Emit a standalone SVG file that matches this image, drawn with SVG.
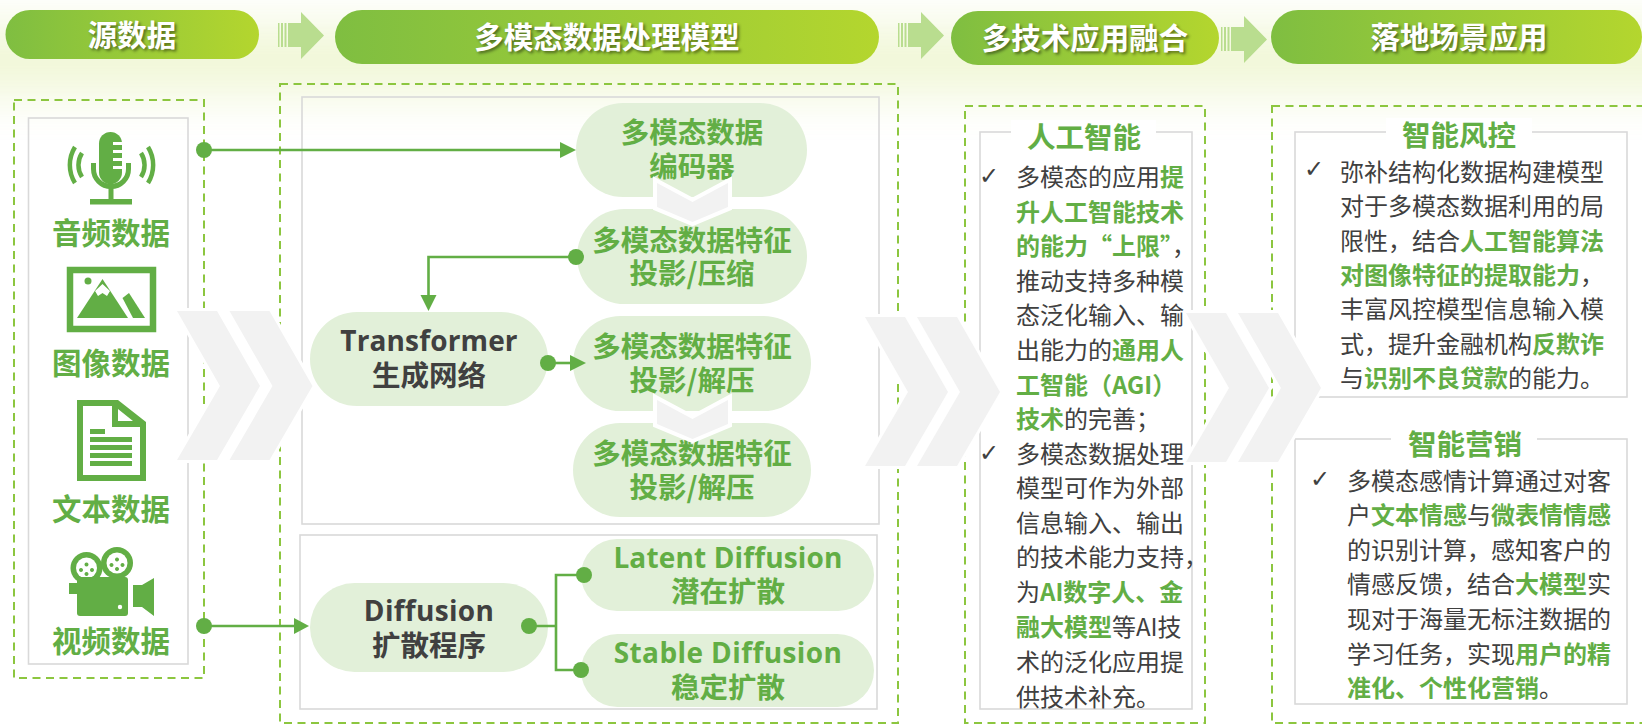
<svg xmlns="http://www.w3.org/2000/svg" xmlns:xlink="http://www.w3.org/1999/xlink" width="1642" height="724" viewBox="0 0 1642 724">
<style>
text{font-family:"Noto Sans CJK SC","Noto Sans",sans-serif}
.hd{font-size:29.500px;font-weight:700;fill:#fff;text-anchor:middle;text-shadow:2px 2px 3px rgba(0,0,0,.45)}
.src{font-size:29.500px;font-weight:700;fill:#62ae45;text-anchor:middle}
.g{font-size:28.500px;font-weight:700;fill:#62ae45;text-anchor:middle}
.d{font-size:28.500px;font-weight:700;fill:#404040;text-anchor:middle}
.lat{font-family:"Open Sans","Noto Sans",sans-serif;font-size:28px;letter-spacing:.15px}
.b{font-size:24px;fill:#404040}
.b tspan.k{font-weight:700;fill:#62ae45}
.chk{font-family:"DejaVu Sans",sans-serif;font-size:24px;fill:#404040;text-anchor:middle}
.dash{fill:none;stroke:#8cc63f;stroke-width:2;stroke-dasharray:8 5.5}
.grey{fill:none;stroke:#d9d9d9;stroke-width:1.6}
.pill{fill:#e2f0d9}
.line{fill:none;stroke:#62ae45;stroke-width:2.6}
.dot{fill:#62ae45}
.ic{fill:#62ae45}
.big{fill:#f2f2f2;stroke:#fff;stroke-width:6;paint-order:stroke}
.small{fill:#f2f2f2;stroke:#fff;stroke-width:8;paint-order:stroke}
.patch{fill:#fff}
</style>
<defs>
<linearGradient id="hg"><stop offset="0" stop-color="#7fbe41"/><stop offset="1" stop-color="#b4d62e"/></linearGradient>
<filter id="bl" filterUnits="userSpaceOnUse" x="-100" y="-100" width="1842" height="400"><feGaussianBlur stdDeviation="26"/></filter>
<g id="step">
<path d="M12 11H23V0L46 23.500 23 47V35H12Z" fill="#b9dd8f"/>
<path d="M0 11H1.500V35H0ZM3 11H5V35H3ZM6.500 11H8.500V35H6.500ZM10 11H12V35H10Z" fill="#b9dd8f"/>
</g>
<path id="chevB" class="big" d="M0 0H40L83 75 40 149H0L43 75Z"/>
<path id="chevS" class="small" d="M0 0 35.500 19 71 0V24L35.500 39 0 24Z"/>
</defs>

<g id="glow" filter="url(#bl)" opacity=".22">
<rect x="-100" y="30" width="1842" height="60" fill="#b4d62e"/>
</g>

<g id="frames">
<rect class="dash" x="14" y="100" width="190" height="578"/>
<rect class="grey" x="28.500" y="118" width="159.500" height="546"/>
<rect class="dash" x="280" y="84" width="618" height="639"/>
<rect class="grey" x="302" y="97" width="577" height="427"/>
<rect class="grey" x="300" y="535" width="577" height="174"/>
<rect class="dash" x="965" y="106" width="240" height="617"/>
<rect class="grey" x="980" y="132" width="212" height="577"/>
<rect class="dash" x="1272" y="106" width="372" height="617"/>
<rect class="grey" x="1295" y="132" width="332" height="265"/>
<rect class="grey" x="1295" y="439" width="332" height="265"/>
</g>

<g id="header-source"><rect x="5.500" y="10" width="253.500" height="49" rx="24.500" fill="url(#hg)"/><text class="hd" x="132" y="45.500">源数据</text></g>
<g id="header-model"><rect x="335" y="10" width="544" height="54" rx="27" fill="url(#hg)"/><text class="hd" x="607" y="47.500">多模态数据处理模型</text></g>
<g id="header-tech"><rect x="951" y="11" width="268" height="54" rx="27" fill="url(#hg)"/><text class="hd" x="1085" y="48.500">多技术应用融合</text></g>
<g id="header-scene"><rect x="1271" y="10" width="371" height="54" rx="27" fill="url(#hg)"/><text class="hd" x="1459" y="47.500">落地场景应用</text></g>
<g id="steps">
<use xlink:href="#step" href="#step" x="278" y="12"/>
<use xlink:href="#step" href="#step" x="898" y="12"/>
<use xlink:href="#step" href="#step" x="1221" y="16"/>
</g>

<g id="src-audio">
<g class="ic">
<rect x="99" y="132" width="23" height="52" rx="11.500"/>
<path d="M113 142h9v3h-9zM113 150h9v3h-9zM113 158h9v3h-9zM113 166h9v3h-9z" fill="#fff"/>
<path d="M93.500 163v6a17 17 0 0 0 35 0v-6" fill="none" stroke="#62ae45" stroke-width="5"/>
<rect x="108.500" y="186" width="5" height="14"/>
<rect x="90" y="199" width="42" height="5.500"/>
<path d="M75 147a34 34 0 0 0 0 36M82 153a22 22 0 0 0 0 24M148 147a34 34 0 0 1 0 36M141 153a22 22 0 0 1 0 24" fill="none" stroke="#62ae45" stroke-width="4.500"/>
</g>
<text class="src" x="111" y="244">音频数据</text>
</g>
<g id="src-image">
<rect x="70" y="270" width="83" height="59" fill="none" stroke="#62ae45" stroke-width="6.500"/>
<circle class="ic" cx="88" cy="281" r="3.500"/>
<path class="ic" d="M77 318 102.500 279 128 318Z"/>
<path d="M95 291 98 296 102.500 293 107 296 110 291 102.500 284Z" fill="#fff"/>
<path class="ic" d="M122.500 298 129 293 145 318H133Z"/>
<text class="src" x="111" y="374">图像数据</text>
</g>
<g id="src-text">
<path class="ic" fill-rule="evenodd" d="M77 400H118L146 422V481H77ZM83 406V475H140V427H112V406ZM118 409V421H133Z"/>
<path class="ic" d="M90 429h15v5H90zM90 437h42v5H90zM90 445h42v5H90zM90 453h42v5H90zM90 461h42v5H90z"/>
<text class="src" x="111" y="520">文本数据</text>
</g>
<g id="src-video">
<circle class="ic" cx="86.500" cy="568" r="16"/><circle cx="86.500" cy="568" r="10.500" fill="#fff"/>
<circle class="ic" cx="117" cy="563" r="16"/><circle cx="117" cy="563" r="10.500" fill="#fff"/>
<path class="ic" d="M86.500 562.500a2 2 0 1 0 .01 0M81 568a2 2 0 1 0 .01 0M92 568a2 2 0 1 0 .01 0M86.500 572a2 2 0 1 0 .01 0M117 557.500a2 2 0 1 0 .01 0M111.500 563a2 2 0 1 0 .01 0M122.500 563a2 2 0 1 0 .01 0M117 567a2 2 0 1 0 .01 0"/>
<rect class="ic" x="77" y="577" width="51" height="39" rx="3"/>
<path class="ic" d="M69 583H77V594H69ZM133 585H142L154 578V616L142 607H133Z"/>
<circle cx="120" cy="607" r="2.200" fill="#fff"/>
<text class="src" x="111" y="652">视频数据</text>
</g>

<g id="node-encoder"><rect class="pill" x="576" y="103" width="231" height="94" rx="47"/><text class="g" x="692" y="143">多模态数据</text><text class="g" x="692" y="177">编码器</text></g>
<g id="node-feat1"><rect class="pill" x="577" y="209" width="230" height="95" rx="47.500"/><text class="g" x="692" y="251">多模态数据特征</text><text class="g" x="692" y="284">投影/压缩</text></g>
<g id="node-transformer"><rect class="pill" x="310" y="312" width="238" height="94" rx="47"/><text class="d lat" x="429" y="351">Transformer</text><text class="d" x="429" y="386">生成网络</text></g>
<g id="node-feat2"><rect class="pill" x="573" y="316" width="238" height="95" rx="47.500"/><text class="g" x="692" y="357">多模态数据特征</text><text class="g" x="692" y="391">投影/解压</text></g>
<g id="node-feat3"><rect class="pill" x="573" y="423" width="238" height="94" rx="47"/><text class="g" x="692" y="464">多模态数据特征</text><text class="g" x="692" y="498">投影/解压</text></g>
<g id="node-diffusion"><rect class="pill" x="310" y="583" width="238" height="89" rx="44.500"/><text class="d lat" x="429" y="621" style="letter-spacing:.3px">Diffusion</text><text class="d" x="429" y="656">扩散程序</text></g>
<g id="node-latent"><rect class="pill" x="581" y="539" width="293" height="72" rx="36"/><text class="g lat" x="728" y="568">Latent Diffusion</text><text class="g" x="728" y="602">潜在扩散</text></g>
<g id="node-stable"><rect class="pill" x="581" y="634" width="293" height="73" rx="36.500"/><text class="g lat" x="728" y="663" style="letter-spacing:.4px">Stable Diffusion</text><text class="g" x="728" y="698">稳定扩散</text></g>

<g id="connectors">
<path class="line" d="M204 150H562"/><circle class="dot" cx="204" cy="150" r="8"/><path class="dot" d="M560 142 576 150 560 158Z"/>
<path class="line" d="M576 257H428.500V297"/><circle class="dot" cx="576" cy="257" r="8"/><path class="dot" d="M420.500 295H436.500L428.500 311Z"/>
<path class="line" d="M548 363H572"/><circle class="dot" cx="548" cy="363" r="8"/><path class="dot" d="M570 355 586 363 570 371Z"/>
<path class="line" d="M204 626H296"/><circle class="dot" cx="204" cy="626" r="8"/><path class="dot" d="M294 618 309 626 294 634Z"/>
<path class="line" d="M529 626H556M584 575H556V670H581"/><circle class="dot" cx="529" cy="626" r="8"/><circle class="dot" cx="584" cy="575" r="8"/><circle class="dot" cx="581" cy="670" r="8"/>
</g>

<g id="chevrons">
<use xlink:href="#chevS" href="#chevS" x="657" y="183"/>
<use xlink:href="#chevS" href="#chevS" x="657" y="400"/>
<use xlink:href="#chevB" href="#chevB" x="177" y="311"/>
<use xlink:href="#chevB" href="#chevB" x="229.500" y="311"/>
<use xlink:href="#chevB" href="#chevB" x="865" y="317"/>
<use xlink:href="#chevB" href="#chevB" x="917" y="317"/>
<use xlink:href="#chevB" href="#chevB" x="1186" y="313"/>
<use xlink:href="#chevB" href="#chevB" x="1238" y="313"/>
</g>

<g id="panel-ai">
<rect class="patch" x="1011" y="120" width="145" height="30"/>
<text class="g" x="1084" y="148">人工智能</text>
<text class="chk" x="989" y="184">✓</text>
<text class="b" x="1016" y="185.500">多模态的应用<tspan class="k">提</tspan></text>
<text class="b" x="1016" y="220.500"><tspan class="k">升人工智能技术</tspan></text>
<text class="b" x="1016" y="254.500"><tspan class="k">的能力“上限”</tspan>，</text>
<text class="b" x="1016" y="289.500">推动支持多种模</text>
<text class="b" x="1016" y="323.500">态泛化输入、输</text>
<text class="b" x="1016" y="358.500">出能力的<tspan class="k">通用人</tspan></text>
<text class="b" x="1016" y="393.500"><tspan class="k">工智能（AGI）</tspan></text>
<text class="b" x="1016" y="427.500"><tspan class="k">技术</tspan>的完善；</text>
<text class="chk" x="989" y="461">✓</text>
<text class="b" x="1016" y="462.500">多模态数据处理</text>
<text class="b" x="1016" y="496.500">模型可作为外部</text>
<text class="b" x="1016" y="531.500">信息输入、输出</text>
<text class="b" x="1016" y="565.500">的技术能力支持，</text>
<text class="b" x="1016" y="600.500">为<tspan class="k">AI数字人、金</tspan></text>
<text class="b" x="1016" y="635.500"><tspan class="k">融大模型</tspan>等AI技</text>
<text class="b" x="1016" y="670.500">术的泛化应用提</text>
<text class="b" x="1016" y="705.500">供技术补充。</text>
</g>

<g id="panel-risk">
<rect class="patch" x="1386" y="118" width="146" height="32"/>
<text class="g" x="1459" y="146">智能风控</text>
<text class="chk" x="1314" y="177">✓</text>
<text class="b" x="1340" y="180.500">弥补结构化数据构建模型</text>
<text class="b" x="1340" y="214.500">对于多模态数据利用的局</text>
<text class="b" x="1340" y="249.500">限性，结合<tspan class="k">人工智能算法</tspan></text>
<text class="b" x="1340" y="283.500"><tspan class="k">对图像特征的提取能力</tspan>，</text>
<text class="b" x="1340" y="317.500">丰富风控模型信息输入模</text>
<text class="b" x="1340" y="352.500">式，提升金融机构<tspan class="k">反欺诈</tspan></text>
<text class="b" x="1340" y="386.500">与<tspan class="k">识别不良贷款</tspan>的能力。</text>
</g>

<g id="panel-marketing">
<rect class="patch" x="1391" y="425" width="146" height="30"/>
<text class="g" x="1465" y="455">智能营销</text>
<text class="chk" x="1320" y="487">✓</text>
<text class="b" x="1347" y="489.500">多模态感情计算通过对客</text>
<text class="b" x="1347" y="523.500">户<tspan class="k">文本情感</tspan>与<tspan class="k">微表情情感</tspan></text>
<text class="b" x="1347" y="558.500">的识别计算，感知客户的</text>
<text class="b" x="1347" y="592.500">情感反馈，结合<tspan class="k">大模型</tspan>实</text>
<text class="b" x="1347" y="627.500">现对于海量无标注数据的</text>
<text class="b" x="1347" y="662.500">学习任务，实现<tspan class="k">用户的精</tspan></text>
<text class="b" x="1347" y="696.500"><tspan class="k">准化、个性化营销</tspan>。</text>
</g>
</svg>
